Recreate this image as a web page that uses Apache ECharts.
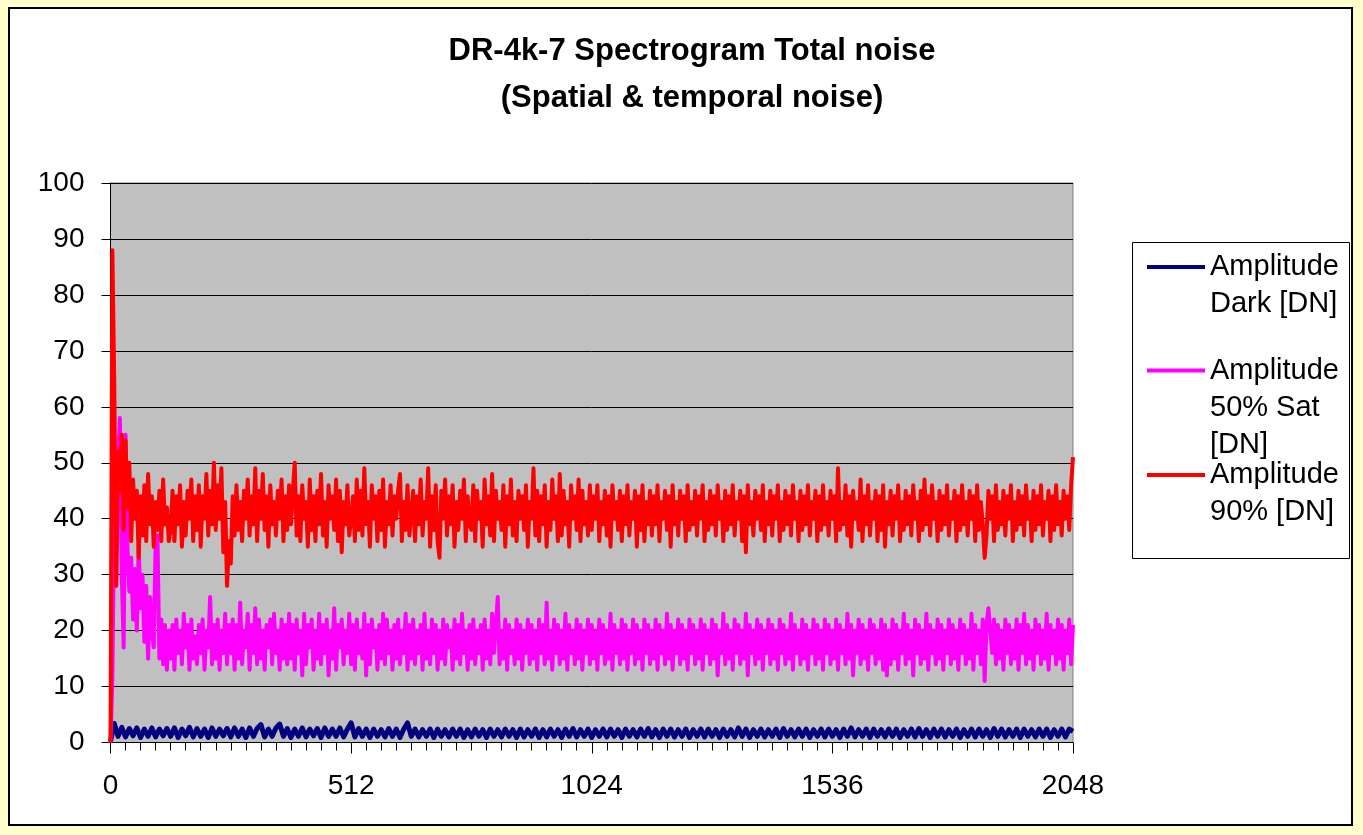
<!DOCTYPE html>
<html>
<head>
<meta charset="utf-8">
<script src="https://cdn.jsdelivr.net/npm/echarts@6/dist/echarts.min.js"></script>
<style>
  html, body { margin: 0; padding: 0; background: #FFFFCC; width: 1363px; height: 835px; overflow: hidden; }
  #frame { position: absolute; left: 8px; top: 7px; width: 1345px; height: 819px; background: #FFFFFF; border: 2px solid #000; box-sizing: border-box; }
  #chart { position: absolute; left: 0; top: 0; width: 1363px; height: 835px; }
</style>
</head>
<body>
<div id="frame"></div>
<div id="chart"></div>
<script>
// ---- Data ----
const titleText = 'DR-4k-7 Spectrogram Total noise';
const subTitleText = '(Spatial & temporal noise)';
const seriesNames = ['Amplitude Dark [DN]', 'Amplitude 50% Sat [DN]', 'Amplitude 90% [DN]'];
const legendLabels = ['Amplitude\nDark [DN]', 'Amplitude\n50% Sat\n[DN]', 'Amplitude\n90% [DN]'];
const xTickLabels = [0, 512, 1024, 1536, 2048];

// x-unit step between stored samples
const darkStep = 8;
const satStep = 4;
const ninetyStep = 4;

const darkValues = [
0.2,3.4,1.1,2.7,1.0,2.5,1.2,2.6,0.9,2.4,1.1,2.6,1.0,2.4,1.2,2.5,
1.1,2.6,0.9,2.4,1.2,2.7,1.0,2.5,1.1,2.4,0.9,2.6,1.1,2.4,1.2,2.5,
1.0,2.6,1.1,2.4,0.9,2.6,1.1,2.5,3.2,1.0,2.4,1.1,2.6,3.3,1.1,2.5,
0.9,2.4,1.1,2.6,1.0,2.4,1.2,2.5,0.9,2.6,1.1,2.4,1.1,2.6,1.0,2.4,
3.5,1.0,2.5,1.1,2.4,0.9,2.4,1.1,2.3,1.0,2.5,1.1,2.4,0.9,2.4,3.5,
1.1,2.4,1.0,2.3,1.1,2.4,0.9,2.4,1.1,2.3,1.0,2.4,1.1,2.4,0.9,2.3,
1.0,2.4,1.1,2.3,0.9,2.4,1.1,2.3,1.0,2.4,1.1,2.3,0.9,2.4,1.0,2.3,
1.1,2.4,0.9,2.3,1.0,2.4,1.1,2.3,0.9,2.4,1.1,2.5,1.0,2.3,1.1,2.4,
0.9,2.3,1.1,2.4,1.0,2.4,1.1,2.3,0.9,2.4,1.1,2.3,1.0,2.4,1.1,2.5,
1.0,2.3,0.9,2.4,1.1,2.4,1.0,2.3,1.1,2.4,0.9,2.3,1.1,2.4,1.0,2.4,
1.1,2.3,0.9,2.4,1.1,2.3,1.0,2.6,1.1,2.4,0.9,2.3,1.1,2.4,1.0,2.3,
1.1,2.4,0.9,2.5,1.1,2.3,1.0,2.4,1.1,2.4,0.9,2.3,1.1,2.4,1.0,2.4,
1.1,2.3,0.9,2.4,1.1,2.6,1.0,2.3,1.1,2.4,0.9,2.4,1.1,2.3,1.0,2.4,
1.1,2.4,0.9,2.3,1.1,2.4,1.0,2.5,1.1,2.3,0.9,2.4,1.1,2.4,1.0,2.3,
1.1,2.4,0.9,2.3,1.1,2.4,1.0,2.4,1.1,2.3,0.9,2.5,1.1,2.4,1.0,2.3,
1.1,2.4,0.9,2.4,1.1,2.3,1.0,2.4,1.1,2.4,0.9,2.3,1.1,2.4,1.0,2.4,
2.0
];

const satValues = [
0,12,41,28,50,58,30,17,55,35,27,33,22,31,20,35,24,30,18,28,15,26,20,17,36,37,15,22,14,21,13,20,
15,21,13,22,16,20,14,23,17,21,13,22,15,19,14,21,16,22,13,20,17,26,14,21,15,22,13,20,16,23,14,21,
16,22,13,21,15,25,14,20,17,23,13,21,16,24,14,22,15,20,13,21,17,22,14,23,16,20,13,22,15,21,14,23,
15,21,13,22,16,20,12,23,14,21,17,22,13,20,15,23,14,21,16,22,12,20,15,24,13,21,17,22,14,20,16,23,
14,21,13,22,16,20,15,23,12,21,14,22,17,20,13,21,15,23,14,22,16,20,13,21,15,22,14,20,16,23,13,21,
15,22,14,20,16,21,13,23,15,20,14,22,16,21,13,20,15,22,14,21,17,20,13,22,15,21,14,23,16,20,13,21,
15,22,14,20,16,21,13,22,15,20,14,23,16,21,26,14,20,15,22,13,21,16,20,14,22,15,21,13,20,16,22,14,
21,15,20,13,22,16,21,14,25,15,20,13,22,16,21,14,20,15,23,13,21,16,20,14,22,15,21,13,20,16,22,14,
21,15,20,13,22,16,21,14,20,15,23,13,21,16,20,14,22,15,21,13,20,16,22,14,21,15,20,13,22,16,21,14,
20,15,22,13,21,16,20,14,23,15,21,13,20,16,22,14,21,15,20,13,22,16,21,14,20,15,22,13,21,16,20,14,
22,15,21,12,20,16,23,14,21,15,20,13,22,16,21,14,20,15,23,12,21,16,20,14,22,15,21,13,20,16,22,14,
21,15,20,13,22,16,21,14,20,15,23,13,21,16,20,14,22,15,21,13,20,16,22,14,21,15,20,13,22,16,21,14,
20,15,22,13,21,16,20,14,23,15,21,12,20,16,22,14,21,15,20,13,22,16,21,14,20,15,22,13,21,12,20,14,
22,15,21,13,20,16,23,14,21,15,20,12,22,16,21,14,20,15,23,13,21,16,20,14,22,15,21,13,20,16,22,14,
21,15,20,13,22,16,21,14,20,15,23,13,21,16,20,14,22,11,21,24,20,16,22,14,21,15,20,13,22,16,21,14,
20,15,22,13,21,16,23,14,21,15,20,13,22,16,21,14,20,15,23,13,21,16,20,14,22,15,21,13,20,16,22,14,21
];

const ninetyValues = [
0,88,64,28,52,45,55,38,54,42,50,36,47,40,45,33,44,37,46,36,48,39,44,35,43,38,45,36,47,39,42,36,
38,45,36,44,39,46,35,43,37,45,40,47,36,44,38,46,35,44,40,48,37,45,39,50,38,46,40,49,34,43,28,36,
32,44,37,46,38,43,36,45,40,47,37,44,39,49,36,45,40,48,38,44,35,46,39,43,37,45,40,47,36,44,38,46,
39,45,50,37,44,36,46,40,43,35,47,38,44,36,45,39,48,37,43,35,46,40,44,38,47,36,45,34,43,39,46,37,
40,44,36,47,38,45,37,49,39,43,35,46,40,44,36,45,38,47,35,43,39,46,37,44,40,45,48,36,43,38,46,37,
41,45,36,44,39,47,37,43,40,49,35,44,38,46,36,33,45,40,47,37,44,39,46,35,43,38,45,40,47,36,44,39,
38,46,36,45,40,43,35,47,39,44,37,48,36,45,40,43,38,46,35,44,39,47,37,43,36,45,40,44,38,46,35,43,
40,49,37,45,36,44,39,46,35,43,38,47,40,44,36,48,37,45,39,43,35,46,40,44,38,47,36,45,39,43,37,46,
38,44,40,46,36,43,39,45,37,44,35,46,40,43,38,45,36,44,39,46,37,43,40,45,35,44,38,46,36,43,39,45,
37,44,39,46,36,43,40,45,38,44,35,46,39,43,37,45,40,44,36,46,38,43,39,45,37,44,40,46,36,43,38,45,
39,44,37,46,40,43,36,45,38,44,39,46,37,43,40,45,36,44,34,46,39,43,37,45,40,44,38,46,36,43,39,45,
37,44,40,46,36,43,38,45,39,44,37,46,40,43,36,45,38,44,39,46,37,43,40,45,36,44,38,46,39,43,37,45,
40,44,36,49,38,43,39,46,37,44,35,45,40,43,38,47,36,44,39,46,37,43,40,45,36,44,38,46,35,43,39,45,
37,44,40,46,36,43,38,45,39,44,37,46,40,43,36,45,38,47,39,44,37,46,40,43,36,45,38,44,39,46,37,43,
40,45,36,44,38,46,39,43,37,45,40,44,36,46,38,43,39,33,37,45,40,44,36,46,38,43,39,45,37,44,40,46,
36,43,38,45,39,44,37,46,40,43,36,45,38,44,39,46,37,43,40,45,36,44,38,46,39,43,37,45,40,44,38,46,51
];

const seriesColors = ['#000080', '#FF00FF', '#FF0000'];
const seriesWidths = [5, 4, 4];

// ---- Build chart ----
function pairs(values, step) { return values.map((v, i) => [i * step, v]); }
const seriesData = [pairs(darkValues, darkStep), pairs(satValues, satStep), pairs(ninetyValues, ninetyStep)];

// legend text: pad blank lines above so the first text line sits on the legend line
function legendText(label) {
  const n = label.split('\n').length;
  return ' \n'.repeat(n - 1) + label;
}

const FONT = 'Liberation Sans, Arial, sans-serif';
const chart = echarts.init(document.getElementById('chart'), null, { renderer: 'canvas' });

const legendTops = [206.5, 273, 414.5];

const option = {
  backgroundColor: 'transparent',
  animation: false,
  title: {
    text: titleText + '\n' + subTitleText,
    left: 687,
    top: 23,
    textAlign: 'center',
    textStyle: { fontFamily: FONT, fontWeight: 'bold', fontSize: 31, lineHeight: 47, color: '#000' }
  },
  grid: {
    left: 110.5, top: 183, right: 290, bottom: 92.5,
    show: true, backgroundColor: '#C0C0C0', borderColor: '#808080', borderWidth: 1
  },
  legend: seriesNames.map((name, i) => ({
    data: [{ name: name, icon: 'rect' }],
    left: 1142,
    top: legendTops[i],
    orient: 'vertical',
    itemWidth: 58,
    itemHeight: 4,
    padding: 5,
    formatter: () => legendText(legendLabels[i]),
    textStyle: { fontFamily: FONT, fontSize: 29, lineHeight: 37, color: '#000' }
  })),
  graphic: [{
    type: 'rect', left: 1132, top: 242, z: -1,
    shape: { width: 217, height: 316 },
    style: { fill: '#FFFFFF', stroke: '#000000', lineWidth: 1 }
  }],
  xAxis: {
    type: 'value', min: 0, max: 2048, interval: 512,
    axisLine: { show: true, onZero: false, lineStyle: { color: '#000', width: 1 } },
    axisTick: { show: true, length: 11, lineStyle: { color: '#000' } },
    minorTick: { show: true, splitNumber: 16, length: 8, lineStyle: { color: '#000' } },
    splitLine: { show: false },
    axisLabel: {
      margin: 30, fontFamily: FONT, fontSize: 28, color: '#000',
      formatter: (v) => (xTickLabels.indexOf(v) >= 0 ? String(v) : '')
    }
  },
  yAxis: {
    type: 'value', min: 0, max: 100, interval: 10,
    axisLine: { show: true, lineStyle: { color: '#000', width: 1 } },
    axisTick: { show: true, length: 9, lineStyle: { color: '#000' } },
    splitLine: { show: true, lineStyle: { color: '#000', width: 1 } },
    axisLabel: { margin: 26, fontFamily: FONT, fontSize: 28, color: '#000' }
  },
  series: seriesNames.map((name, i) => ({
    name: name,
    type: 'line',
    data: seriesData[i],
    showSymbol: false,
    symbol: 'none',
    sampling: 'none',
    lineStyle: { color: seriesColors[i], width: seriesWidths[i], join: 'round' },
    itemStyle: { color: seriesColors[i] },
    emphasis: { disabled: true },
    z: 2 + i
  }))
};
chart.setOption(option);
</script>
</body>
</html>
